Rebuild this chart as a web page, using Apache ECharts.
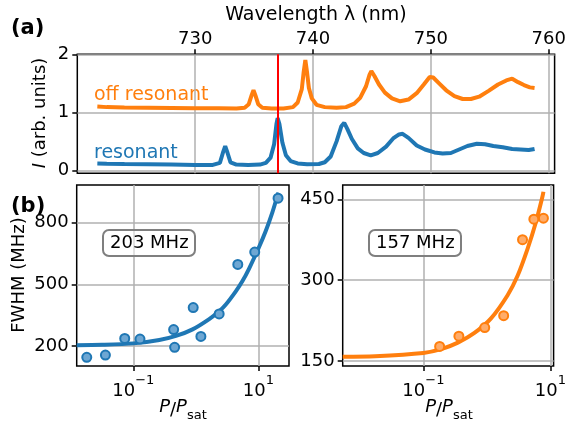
<!DOCTYPE html>
<html><head><meta charset="utf-8">
<script src="https://cdn.jsdelivr.net/npm/echarts@6/dist/echarts.min.js"></script>
<style>html,body{margin:0;padding:0;background:#fff}#c{width:569px;height:426px}</style>
</head><body><div id="c"></div>
<script>
// ---- panel (a): spectra ----
const offWavelength = [721.7,722.5,724.0,726.0,728.0,730.0,732.0,733.5,734.2,734.55,734.8,734.95,735.1,735.35,735.7,736.5,737.5,738.3,738.7,739.05,739.2,739.35,739.5,739.65,739.9,740.3,741.0,742.0,742.8,743.5,744.0,744.5,744.8,744.95,745.2,745.6,746.1,746.7,747.4,748.1,748.8,749.4,749.9,750.2,750.7,751.3,752.0,752.7,753.4,754.1,754.9,755.7,756.4,756.9,757.4,757.9,758.4,758.8];
const offIntensity  = [1.10,1.09,1.085,1.08,1.075,1.07,1.07,1.065,1.08,1.14,1.30,1.38,1.30,1.14,1.08,1.065,1.065,1.09,1.17,1.40,1.68,1.90,1.68,1.42,1.24,1.13,1.09,1.08,1.09,1.15,1.25,1.45,1.65,1.71,1.63,1.48,1.34,1.24,1.19,1.22,1.33,1.48,1.61,1.60,1.50,1.38,1.28,1.23,1.23,1.27,1.37,1.48,1.55,1.58,1.52,1.47,1.43,1.42];
const resWavelength = [721.7,722.5,724.0,726.0,728.0,730.0,731.5,732.1,732.35,732.55,732.75,733.0,733.5,734.5,735.5,736.0,736.4,736.7,736.9,737.0,737.15,737.4,737.7,738.1,738.7,739.5,740.5,741.0,741.5,742.0,742.4,742.65,742.9,743.3,743.8,744.3,744.9,745.5,746.2,746.8,747.3,747.6,748.1,748.8,749.5,750.3,751.0,751.7,752.4,753.1,753.9,754.6,755.3,756.1,756.9,757.6,758.3,758.8];
const resIntensity  = [0.12,0.115,0.11,0.105,0.10,0.095,0.095,0.13,0.30,0.42,0.30,0.14,0.10,0.095,0.10,0.13,0.22,0.45,0.80,0.90,0.80,0.48,0.26,0.16,0.12,0.105,0.11,0.14,0.24,0.50,0.76,0.82,0.72,0.54,0.38,0.30,0.26,0.30,0.41,0.55,0.62,0.63,0.56,0.43,0.36,0.31,0.29,0.30,0.36,0.42,0.46,0.45,0.42,0.40,0.37,0.36,0.35,0.37];
const laserWavelength = 737.0;
const wavelengthTicks = [730,740,750,760];
const intensityTicks = [0,1,2];

// ---- panel (b): FWHM vs saturation (x values are log10(P/Psat)) ----
const leftLogP  = [-1.745,-1.447,-1.138,-0.894,-0.356,-0.340,-0.043,0.080,0.372,0.670,0.941,1.314];
const leftFWHM  = [145,156,237,234,280,194,387,247,356,597,657,919];
const leftFitLogP = [-1.906,-1.5,-1.0,-0.585,-0.319,-0.053,0.213,0.372,0.479,0.638,0.745,0.851,1.0,1.117,1.223,1.303,1.32];
const leftFitFWHM = [204,206,213,229,249,281,331,369,402,466,516,577,674,759,850,930,946];
const leftLabel = '203 MHz';
const leftYTicks = [200,500,800];

const rightLogP = [-0.744,-0.441,-0.034,0.264,0.561,0.739,0.890];
const rightFWHM = [177,196,212,234,375,413,415];
const rightFitLogP = [-2.27,-1.76,-1.0,-0.718,-0.457,-0.196,0.065,0.326,0.483,0.640,0.770,0.875,0.89];
const rightFitFWHM = [158,159,165,172,184,202,229,272,308,358,407,455,464];
const rightLabel = '157 MHz';
const rightYTicks = [150,300,450];

const logTicks = [-1,1];

const FONT = 'DejaVu Sans';
const BLUE = '#1f77b4', ORANGE = '#ff7f0e';
const pairs = (xs, ys) => xs.map((x, i) => [x, ys[i]]);
const gridLine = {show:true, lineStyle:{color:'#b0b0b0', width:1.5}};
const noLine = {show:false, onZero:false};
const tick = (vals) => ({show:true, inside:false, length:5, lineStyle:{color:'#000', width:1.5}, customValues: vals});
const lbl = (vals, extra) => Object.assign({customValues: vals, fontSize:18, color:'#000', fontFamily:FONT}, extra||{});
const logLabel = {
  formatter: v => '{b|10}{s|' + (v < 0 ? '\u2212' : '') + Math.abs(v) + '}',
  rich: {b:{fontSize:18, fontFamily:FONT, color:'#000', lineHeight:26, verticalAlign:'bottom'},
         s:{fontSize:13, fontFamily:FONT, color:'#000', lineHeight:26, verticalAlign:'top'}}
};

const chart = echarts.init(document.getElementById('c'), null, {renderer:'canvas'});
const option = {
  animation:false,
  backgroundColor:'#fff',
  grid:[
    {left:77.3, top:54.3, width:477.3, height:119, show:true, borderColor:'#000', borderWidth:1.5, backgroundColor:'transparent'},
    {left:76.7, top:185, width:212.3, height:181, show:true, borderColor:'#000', borderWidth:1.5, backgroundColor:'transparent'},
    {left:342.7, top:185, width:212.3, height:181, show:true, borderColor:'#000', borderWidth:1.5, backgroundColor:'transparent'}
  ],
  xAxis:[
    {gridIndex:0, type:'value', position:'top', min:720, max:760.5, axisLine:noLine,
     axisTick:tick(wavelengthTicks), axisLabel:lbl(wavelengthTicks,{margin:6}), splitLine:gridLine},
    {gridIndex:1, type:'value', position:'bottom', min:-1.906, max:1.489, axisLine:noLine,
     axisTick:tick(logTicks), axisLabel:lbl(logTicks, Object.assign({margin:8}, logLabel)), splitLine:gridLine},
    {gridIndex:2, type:'value', position:'bottom', min:-2.27, max:1.05, axisLine:noLine,
     axisTick:tick(logTicks), axisLabel:lbl(logTicks, Object.assign({margin:8}, logLabel)), splitLine:gridLine}
  ],
  yAxis:[
    {gridIndex:0, type:'value', position:'left', min:-0.05, max:2.0, axisLine:noLine,
     axisTick:tick(intensityTicks), axisLabel:lbl(intensityTicks,{margin:8}), splitLine:gridLine},
    {gridIndex:1, type:'value', position:'left', min:103, max:983, axisLine:noLine,
     axisTick:tick(leftYTicks), axisLabel:lbl(leftYTicks,{margin:8}), splitLine:gridLine},
    {gridIndex:2, type:'value', position:'left', min:140.7, max:476.5, axisLine:noLine,
     axisTick:tick(rightYTicks), axisLabel:lbl(rightYTicks,{margin:8}), splitLine:gridLine}
  ],
  title:[
    {text:leftLabel, left:103, top:230, padding:[3,7], borderColor:'#7f7f7f', borderWidth:2, borderRadius:6,
     backgroundColor:'rgba(255,255,255,0.5)', textStyle:{fontSize:18, fontWeight:'normal', color:'#000', fontFamily:FONT, lineHeight:20}},
    {text:rightLabel, left:369, top:230, padding:[3,7], borderColor:'#7f7f7f', borderWidth:2, borderRadius:6,
     backgroundColor:'rgba(255,255,255,0.5)', textStyle:{fontSize:18, fontWeight:'normal', color:'#000', fontFamily:FONT, lineHeight:20}}
  ],
  series:[
    {type:'line', xAxisIndex:0, yAxisIndex:0, data:pairs(offWavelength, offIntensity), showSymbol:false,
     lineStyle:{color:ORANGE, width:4}, itemStyle:{color:ORANGE}, z:2},
    {type:'line', xAxisIndex:0, yAxisIndex:0, data:pairs(resWavelength, resIntensity), showSymbol:false,
     lineStyle:{color:BLUE, width:4}, itemStyle:{color:BLUE}, z:3,
     markLine:{symbol:'none', silent:true, label:{show:false}, lineStyle:{color:'#ff0000', width:2, type:'solid'},
               data:[{xAxis:laserWavelength}]}},
    {type:'line', xAxisIndex:1, yAxisIndex:1, data:pairs(leftFitLogP, leftFitFWHM), showSymbol:false, smooth:0.3,
     lineStyle:{color:BLUE, width:4}, itemStyle:{color:BLUE}, z:2},
    {type:'scatter', xAxisIndex:1, yAxisIndex:1, data:pairs(leftLogP, leftFWHM), symbolSize:9,
     itemStyle:{color:'#6ea7d3', borderColor:BLUE, borderWidth:2, opacity:1}, z:3},
    {type:'line', xAxisIndex:2, yAxisIndex:2, data:pairs(rightFitLogP, rightFitFWHM), showSymbol:false, smooth:0.3,
     lineStyle:{color:ORANGE, width:4}, itemStyle:{color:ORANGE}, z:2},
    {type:'scatter', xAxisIndex:2, yAxisIndex:2, data:pairs(rightLogP, rightFWHM), symbolSize:9,
     itemStyle:{color:'#ffac6a', borderColor:ORANGE, borderWidth:2, opacity:1}, z:3}
  ],
  graphic:[
    {type:'text', left:11, top:18, style:{text:'(a)', fontSize:21, fontWeight:'bold', fontFamily:FONT, fill:'#000'}},
    {type:'text', left:11, top:196, style:{text:'(b)', fontSize:21, fontWeight:'bold', fontFamily:FONT, fill:'#000'}},
    {type:'text', x:316, y:15, style:{text:'Wavelength \u03bb (nm)', fontSize:19, fontFamily:FONT, fill:'#000', align:'center', verticalAlign:'middle', textAlign:'center', textVerticalAlign:'middle'}},
    {type:'text', x:40, y:113, rotation:Math.PI/2, style:{text:'{i|I} (arb. units)', fontSize:18, fontFamily:FONT, fill:'#000', align:'center', verticalAlign:'middle', textAlign:'center', textVerticalAlign:'middle',
      rich:{i:{fontStyle:'italic', fontSize:18, fontFamily:FONT}}}},
    {type:'text', x:19, y:275, rotation:Math.PI/2, style:{text:'FWHM (MHz)', fontSize:18, fontFamily:FONT, fill:'#000', align:'center', verticalAlign:'middle', textAlign:'center', textVerticalAlign:'middle'}},
    {type:'text', x:183, y:410, style:{text:'{i|P}/{i|P}{s|sat}', fontSize:18, fontFamily:FONT, fill:'#000', align:'center', verticalAlign:'middle', textAlign:'center', textVerticalAlign:'middle',
      rich:{i:{fontStyle:'italic', fontSize:18, fontFamily:FONT, lineHeight:24, verticalAlign:'top'}, s:{fontSize:13, fontFamily:FONT, lineHeight:24, verticalAlign:'bottom'}}}},
    {type:'text', x:449, y:410, style:{text:'{i|P}/{i|P}{s|sat}', fontSize:18, fontFamily:FONT, fill:'#000', align:'center', verticalAlign:'middle', textAlign:'center', textVerticalAlign:'middle',
      rich:{i:{fontStyle:'italic', fontSize:18, fontFamily:FONT, lineHeight:24, verticalAlign:'top'}, s:{fontSize:13, fontFamily:FONT, lineHeight:24, verticalAlign:'bottom'}}}},
    {type:'text', left:94, top:86, style:{text:'off resonant', fontSize:19, fontFamily:FONT, fill:ORANGE}},
    {type:'text', left:94, top:144, style:{text:'resonant', fontSize:19, fontFamily:FONT, fill:BLUE}}
  ]
};
chart.setOption(option);
</script>
</body></html>
